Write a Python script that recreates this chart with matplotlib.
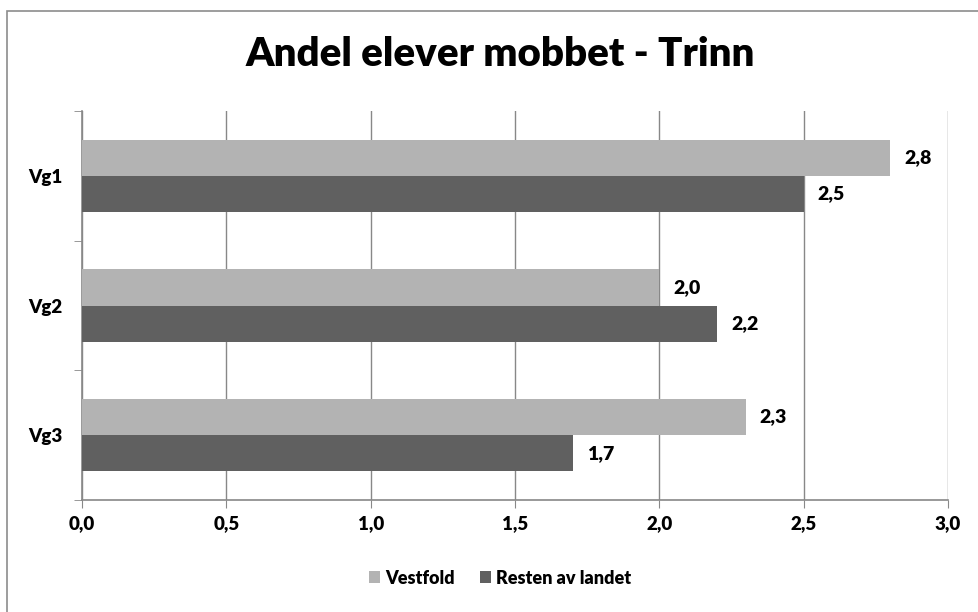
import matplotlib.pyplot as plt
import numpy as np
from matplotlib.patches import Rectangle

plt.rcParams['font.family'] = ['Lato', 'DejaVu Sans']

categories = ['Vg1', 'Vg2', 'Vg3']
vestfold = [2.8, 2.0, 2.3]
resten = [2.5, 2.2, 1.7]
series_names = ['Vestfold', 'Resten av landet']
xticks = [0.0, 0.5, 1.0, 1.5, 2.0, 2.5, 3.0]

light = '#b3b3b3'
dark = '#606060'
grid = '#888888'

fig = plt.figure(figsize=(9.79, 6.12), dpi=100)
ax = fig.add_axes([82 / 979, 1 - 500 / 612, (948 - 82) / 979, (500 - 111) / 612])

# outer frame (only top and left visible in the original)
fig.patches.append(Rectangle((7 / 979, -0.1), 1.2, 1 - 11 / 612 + 0.1,
                             transform=fig.transFigure, fill=False,
                             edgecolor='#8c8c8c', linewidth=1.2))

y = np.arange(len(categories))
h = 0.28
b1 = ax.barh(y - h / 2, vestfold, height=h, color=light, label=series_names[0], zorder=3)
b2 = ax.barh(y + h / 2, resten, height=h, color=dark, label=series_names[1], zorder=3)

for bars, vals in ((b1, vestfold), (b2, resten)):
    for bar, v in zip(bars, vals):
        ax.annotate(f'{v:.1f}'.replace('.', ','),
                    (v, bar.get_y() + bar.get_height() / 2),
                    xytext=(10, 0), textcoords='offset points',
                    va='center', ha='left', fontsize=14, fontweight='heavy')

ax.set_xlim(0, 3.0)
ax.set_ylim(len(categories) - 0.5, -0.5)
ax.set_xticks(xticks)
ax.set_xticklabels([f'{t:.1f}'.replace('.', ',') for t in xticks],
                   fontsize=13.5, fontweight='heavy')
ax.set_yticks(y)
ax.set_yticklabels(categories, fontsize=13.5, fontweight='heavy')
ax.set_yticks(np.arange(len(categories) + 1) - 0.5, minor=True)
ax.tick_params(axis='y', which='major', length=0, pad=14)
ax.tick_params(axis='y', which='minor', length=6, color=grid, direction='out')
ax.tick_params(axis='x', length=6, color=grid, direction='out', pad=5)

ax.grid(axis='x', color=grid, linewidth=1, zorder=0)
for side in ('top', 'right'):
    ax.spines[side].set_visible(False)
for side in ('left', 'bottom'):
    ax.spines[side].set_color(grid)
    ax.spines[side].set_linewidth(1.2)

fig.suptitle('Andel elever mobbet - Trinn', x=0.511, y=1 - 36 / 612, va='top',
             fontsize=29, fontweight='heavy')

fig.legend(loc='center', bbox_to_anchor=(0.511, 1 - 578 / 612), ncol=2,
           frameon=False, prop={'size': 13, 'weight': 'heavy'},
           handlelength=0.6, handleheight=0.6, handletextpad=0.3, columnspacing=1.4)

fig.savefig('out.png', dpi=100, facecolor='white')
